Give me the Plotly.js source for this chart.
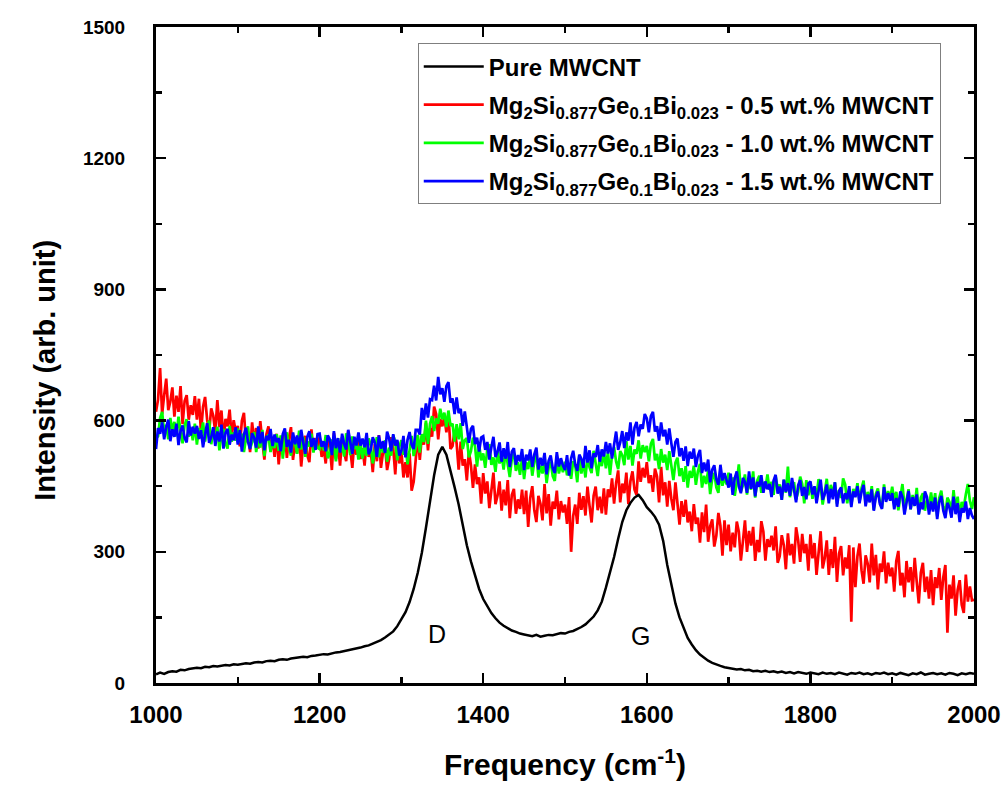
<!DOCTYPE html>
<html>
<head>
<meta charset="utf-8">
<script src="https://cdn.plot.ly/plotly-3.0.1.min.js"></script>
<style>html,body{margin:0;padding:0;background:#fff;}#chart{width:1005px;height:785px;}</style>
</head>
<body>
<div id="chart"></div>
<script>
// Raman spectra, 1000-2000 cm-1
var freqStart = 1000;
var pureStep = 5;      // Pure MWCNT sampled every 5 cm-1
var compositeStep = 2.5; // composite spectra sampled every 2.5 cm-1

var pureMWCNT = [
20,24,21,25,27,26,30,29,32,33,
35,34,37,36,39,38,40,41,40,43,
42,44,45,44,47,48,47,50,51,50,
53,54,53,56,57,58,60,59,62,63,
64,66,65,68,70,71,73,75,76,79,
81,84,86,90,94,98,104,110,118,130,
145,162,185,215,252,298,355,415,475,522,
540,522,488,448,408,362,315,278,245,215,
192,175,160,148,138,131,125,120,117,113,
111,109,107,110,106,108,110,109,112,114,
113,117,119,123,128,134,142,152,166,186,
218,252,288,330,368,395,412,424,430,418,
402,392,380,362,325,270,225,182,150,124,
103,88,75,65,57,51,46,42,39,36,
34,33,31,32,29,30,27,28,26,28,
25,27,24,26,23,25,22,25,23,21,
24,22,20,24,21,23,20,24,22,19,
23,21,24,20,22,19,23,21,24,20,
22,19,23,21,18,22,20,24,19,21,
23,20,22,19,23,21,18,22,20,23,
21];

var mwcnt05 = [
620,648,720,615,658,696,624,643,676,609,657,620,679,592,645,658,602,635,613,656,
602,650,573,631,654,602,575,628,611,574,647,585,623,556,604,587,625,563,601,574,
588,541,600,618,551,574,528,596,554,583,536,599,552,511,569,587,530,559,517,570,
500,555,535,575,515,560,585,510,550,525,570,495,545,565,520,505,580,530,560,535,
562,517,537,502,557,542,487,572,512,547,497,562,527,507,577,537,492,552,522,567,
512,537,497,557,517,532,482,547,507,567,492,527,542,487,512,562,537,477,552,502,
530,470,505,470,525,440,460,510,565,510,565,545,595,532,583,563,632,615,557,604,
587,608,573,617,535,542,578,548,488,552,497,512,463,530,498,446,500,455,470,410,
480,433,461,400,443,481,409,428,461,394,442,406,464,377,430,444,387,420,398,442,
386,440,357,423,450,395,368,428,410,372,455,388,432,360,415,398,440,374,416,390,
408,364,425,300,382,408,364,435,396,427,383,449,405,367,428,449,395,426,388,445,
385,443,425,468,410,458,486,413,456,434,481,409,462,484,442,430,507,460,492,470,
505,457,475,437,490,472,413,494,429,459,403,462,421,395,459,413,362,416,380,419,
367,392,347,409,364,378,321,390,345,408,323,359,374,312,337,389,359,291,372,315,
362,301,344,310,369,346,280,324,372,300,348,314,357,279,327,299,370,346,280,329,
311,337,303,358,275,290,338,315,260,342,292,318,273,356,327,277,341,297,318,257,
340,285,320,247,300,347,262,285,326,247,306,263,334,231,296,313,246,287,262,315,
140,310,219,290,319,258,227,292,273,230,319,246,293,214,273,254,301,228,275,244,
264,209,279,302,223,252,196,279,230,265,209,286,231,182,252,275,208,243,193,258,
178,242,217,263,190,242,270,115,225,193,246,154,213,235,179,160,248,186,221,189,
190];

var mwcnt10 = [
560,564,606,620,573,590,557,606,577,597,564,609,577,548,590,603,563,584,555,593,
545,583,567,596,552,583,600,546,574,555,586,532,567,581,548,536,588,552,573,554,
582,550,570,528,559,587,536,550,574,528,563,538,579,519,557,568,528,553,537,569,
531,566,513,556,573,538,520,559,549,524,577,534,563,517,552,541,570,527,556,538,
535,553,532,567,514,525,557,543,507,560,528,546,518,571,553,521,564,535,550,511,
552,513,541,520,559,545,502,530,562,516,548,527,555,506,538,520,566,552,509,541,
555,522,542,500,534,565,519,537,567,527,569,551,600,547,593,610,576,605,593,627,
603,618,585,623,588,593,552,592,557,594,535,555,560,516,530,561,541,495,546,509,
525,492,534,546,499,516,483,531,502,521,488,533,500,471,513,525,485,505,476,514,
466,505,489,518,474,506,523,470,497,479,510,457,492,506,473,462,514,479,500,482,
506,475,491,467,507,497,459,520,479,505,470,517,493,480,531,504,473,516,496,529,
491,528,476,521,539,506,489,530,521,498,553,511,542,497,534,524,555,513,544,528,
542,507,547,558,509,524,489,535,504,522,487,530,495,464,504,515,473,491,460,496,
447,485,469,497,453,484,501,447,474,455,486,432,467,480,447,435,487,451,472,454,
481,449,470,428,460,500,438,452,477,431,467,442,484,424,463,474,435,460,445,477,
442,460,430,473,444,454,419,465,435,495,425,449,459,420,437,472,455,411,464,429,
460,421,448,427,466,451,408,436,467,421,453,431,459,410,441,423,468,454,411,442,
406,444,429,457,414,445,463,409,437,418,450,396,432,445,413,401,454,418,439,421,
449,417,437,395,427,455,405,419,443,397,430,405,446,386,424,434,394,419,404,436,
400,434,381,423,440,404,386,424,414,388,441,397,426,379,414,402,431,455,416,398,
425];

var mwcnt15 = [
535,583,570,596,557,586,602,553,580,563,593,544,576,589,560,550,599,566,586,570,
588,558,578,539,568,594,549,562,585,542,575,552,591,536,572,581,545,568,555,585,
545,578,529,568,584,551,535,571,561,538,587,548,574,532,565,555,581,542,568,551,
560,530,569,582,540,556,527,573,546,566,537,579,550,524,563,576,540,560,533,569,
570,540,553,530,566,557,521,576,537,560,527,570,547,534,579,553,524,563,543,573,
543,559,539,572,523,533,562,549,517,566,536,553,526,575,559,530,569,543,556,520,
532,565,516,556,574,545,535,579,579,568,629,602,639,607,649,647,680,646,700,660,
674,643,679,688,641,651,615,653,617,627,588,621,583,549,581,588,546,561,529,561,
564,533,551,511,539,563,517,529,550,506,537,513,551,494,529,537,499,521,507,535,
487,522,509,534,494,523,538,488,515,497,526,477,508,520,491,480,528,495,514,497,
487,521,474,514,531,500,485,522,513,492,542,504,532,491,525,517,544,506,534,518,
551,525,548,513,545,575,533,550,576,537,573,554,596,545,584,597,564,591,581,615,
605,573,610,620,575,587,554,596,564,579,545,582,548,517,551,559,518,537,508,541,
496,529,513,536,494,520,533,480,504,484,511,459,488,498,466,453,499,463,480,461,
447,479,430,468,484,450,434,469,459,435,484,444,470,427,460,449,475,435,461,443,
455,425,463,476,433,449,419,465,437,457,428,469,440,413,452,464,428,448,420,456,
461,431,450,411,439,465,419,432,454,411,444,420,459,403,439,447,411,434,420,450,
402,438,425,450,411,437,453,404,431,413,443,394,426,438,409,398,448,414,434,417,
434,397,423,403,438,425,385,411,439,397,425,405,431,385,413,397,438,425,385,415,
392,424,375,413,428,394,377,412,401,378,426,386,411,368,400,390,415,375,400,383,
375];

var seriesNames = [
  'Pure MWCNT',
  'Mg<sub>2</sub>Si<sub>0.877</sub>Ge<sub>0.1</sub>Bi<sub>0.023</sub> - 0.5 wt.% MWCNT',
  'Mg<sub>2</sub>Si<sub>0.877</sub>Ge<sub>0.1</sub>Bi<sub>0.023</sub> - 1.0 wt.% MWCNT',
  'Mg<sub>2</sub>Si<sub>0.877</sub>Ge<sub>0.1</sub>Bi<sub>0.023</sub> - 1.5 wt.% MWCNT'
];
var seriesColors = ['#000000', '#ff0000', '#00ff00', '#0000ff'];

var xTickVals = [1000, 1200, 1400, 1600, 1800, 2000];
var yTickVals = [0, 300, 600, 900, 1200, 1500];

var peakLabels = ['D', 'G'];
var peakX = [1344, 1592];
var peakY = [112, 108];

function freqAxis(n, step) {
  var a = [];
  for (var i = 0; i < n; i++) a.push(freqStart + step * i);
  return a;
}

var allY = [pureMWCNT, mwcnt05, mwcnt10, mwcnt15];
var steps = [pureStep, compositeStep, compositeStep, compositeStep];
var drawOrder = [1, 2, 3, 0];
var traces = drawOrder.map(function (k) {
  return {
    x: freqAxis(allY[k].length, steps[k]),
    y: allY[k],
    type: 'scatter',
    mode: 'lines',
    name: seriesNames[k],
    legendgroup: 'g' + k,
    legendrank: k + 1,
    line: {color: seriesColors[k], width: k === 0 ? 2.5 : 2.7}
  };
});

var sansBold = {family: 'Liberation Sans, Arial, sans-serif', color: '#000', weight: 'bold'};
function f(size, base) { var o = {}; for (var k in base) o[k] = base[k]; o.size = size; return o; }

var annos = peakLabels.map(function (t, i) {
  return {x: peakX[i], y: peakY[i], xref: 'x', yref: 'y', text: t, showarrow: false,
    font: {family: 'Liberation Sans, Arial, sans-serif', size: 25, color: '#000'}};
});
annos.push({
  text: 'Intensity (arb. unit)', xref: 'paper', yref: 'paper',
  x: -0.136, y: 0.477, xanchor: 'center', yanchor: 'middle', textangle: -90,
  showarrow: false, font: f(29, sansBold)
});

var layout = {
  width: 1005,
  height: 785,
  margin: {l: 156, r: 31, t: 27, b: 102, pad: 0},
  paper_bgcolor: '#fff',
  plot_bgcolor: '#fff',
  showlegend: true,
  legend: {
    x: 0.32, y: 0.975, xanchor: 'left', yanchor: 'top',
    bgcolor: '#fff', bordercolor: '#7f7f7f', borderwidth: 1,
    font: f(24, sansBold),
    itemwidth: 60,
    tracegroupgap: 4
  },
  xaxis: {
    range: [1000, 2000],
    tickvals: xTickVals,
    ticktext: xTickVals.map(String),
    ticks: 'inside', ticklen: 10, tickwidth: 2.5, tickcolor: '#000',
    minor: {dtick: 100, ticks: 'inside', ticklen: 6, tickwidth: 2.5, tickcolor: '#000', showgrid: false},
    showline: true, linewidth: 3, linecolor: '#000', mirror: 'allticks',
    showgrid: false, zeroline: false,
    tickfont: f(24, sansBold),
    ticklabelstandoff: 8,
    title: {text: 'Frequency (cm<sup>-1</sup>)', font: f(30, sansBold), standoff: 28}
  },
  yaxis: {
    range: [0, 1500],
    tickvals: yTickVals,
    ticktext: yTickVals.map(String),
    ticks: 'inside', ticklen: 10, tickwidth: 2.5, tickcolor: '#000',
    minor: {dtick: 150, ticks: 'inside', ticklen: 6, tickwidth: 2.5, tickcolor: '#000', showgrid: false},
    showline: true, linewidth: 3, linecolor: '#000', mirror: 'allticks',
    showgrid: false, zeroline: false,
    tickfont: f(19, sansBold),
    ticklabelstandoff: 24
  },
  annotations: annos
};

Plotly.newPlot('chart', traces, layout, {displayModeBar: false, staticPlot: true});
</script>
</body>
</html>
